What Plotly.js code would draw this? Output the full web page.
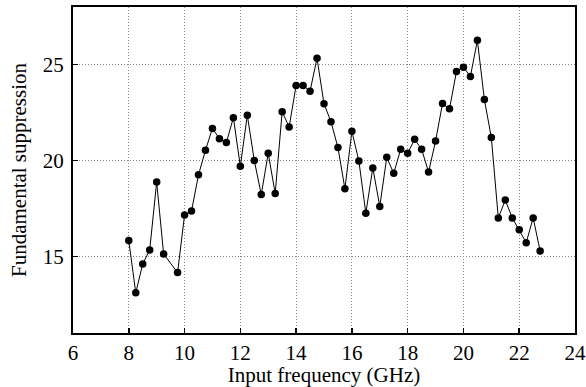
<!DOCTYPE html>
<html>
<head>
<meta charset="utf-8">
<script src="https://cdn.plot.ly/plotly-3.0.1.min.js"></script>
<style>html,body{margin:0;padding:0;background:#fff;}#chart{width:586px;height:387px;}</style>
</head>
<body>
<div id="chart"></div>
<script>
const frequency = [8.0, 8.25, 8.5, 8.75, 9.0, 9.25, 9.75, 10.0, 10.25, 10.5, 10.75, 11.0, 11.25, 11.5, 11.75, 12.0, 12.25, 12.5, 12.75, 13.0, 13.25, 13.5, 13.75, 14.0, 14.25, 14.5, 14.75, 15.0, 15.25, 15.5, 15.75, 16.0, 16.25, 16.5, 16.75, 17.0, 17.25, 17.5, 17.75, 18.0, 18.25, 18.5, 18.75, 19.0, 19.25, 19.5, 19.75, 20.0, 20.25, 20.5, 20.75, 21.0, 21.25, 21.5, 21.75, 22.0, 22.25, 22.5, 22.75];
const suppression = [15.82, 13.1, 14.6, 15.33, 18.87, 15.12, 14.15, 17.15, 17.36, 19.25, 20.53, 21.67, 21.13, 20.93, 22.23, 19.7, 22.36, 20.0, 18.22, 20.37, 18.28, 22.54, 21.74, 23.91, 23.91, 23.61, 25.33, 22.95, 22.02, 20.67, 18.52, 21.52, 19.97, 17.25, 19.61, 17.6, 20.16, 19.33, 20.58, 20.37, 21.1, 20.58, 19.39, 21.01, 22.97, 22.69, 24.64, 24.86, 24.38, 26.26, 23.18, 21.19, 17.0, 17.93, 17.0, 16.39, 15.71, 17.0, 15.28];
const xTicks = [6, 8, 10, 12, 14, 16, 18, 20, 22, 24];
const yTicks = [15, 20, 25];

const fontFam = 'Liberation Serif, Times New Roman, serif';
function axisBase() {
  return {
    showline: true, mirror: true, linecolor: '#000', linewidth: 2,
    ticks: 'inside', ticklen: 5, tickwidth: 1.5, tickcolor: '#000',
    showgrid: true, gridcolor: '#888', gridwidth: 1, griddash: '1px,2px',
    zeroline: false,
    tickfont: {family: fontFam, size: 21, color: '#000'}
  };
}
Plotly.newPlot('chart', [{
  x: frequency, y: suppression, type: 'scatter', mode: 'lines+markers',
  line: {color: '#000', width: 1},
  marker: {color: '#000', size: 7.5, symbol: 'circle'}
}], {
  width: 586, height: 387,
  margin: {l: 73, r: 11, t: 7, b: 54},
  paper_bgcolor: '#fff', plot_bgcolor: '#fff',
  showlegend: false,
  font: {family: fontFam, color: '#000'},
  xaxis: Object.assign(axisBase(), {
    range: [6, 24], tickvals: xTicks, ticktext: xTicks.map(String),
    ticklabelstandoff: 0,
    title: {text: 'Input frequency (GHz)', font: {family: fontFam, size: 21, color: '#000'}, standoff: 4}
  }),
  yaxis: Object.assign(axisBase(), {
    range: [11, 28], tickvals: yTicks, ticktext: yTicks.map(String),
    ticklabelstandoff: 3,
    title: {text: 'Fundamental suppression', font: {family: fontFam, size: 21, color: '#000'}, standoff: 10}
  })
}, {staticPlot: true});
</script>
</body>
</html>
